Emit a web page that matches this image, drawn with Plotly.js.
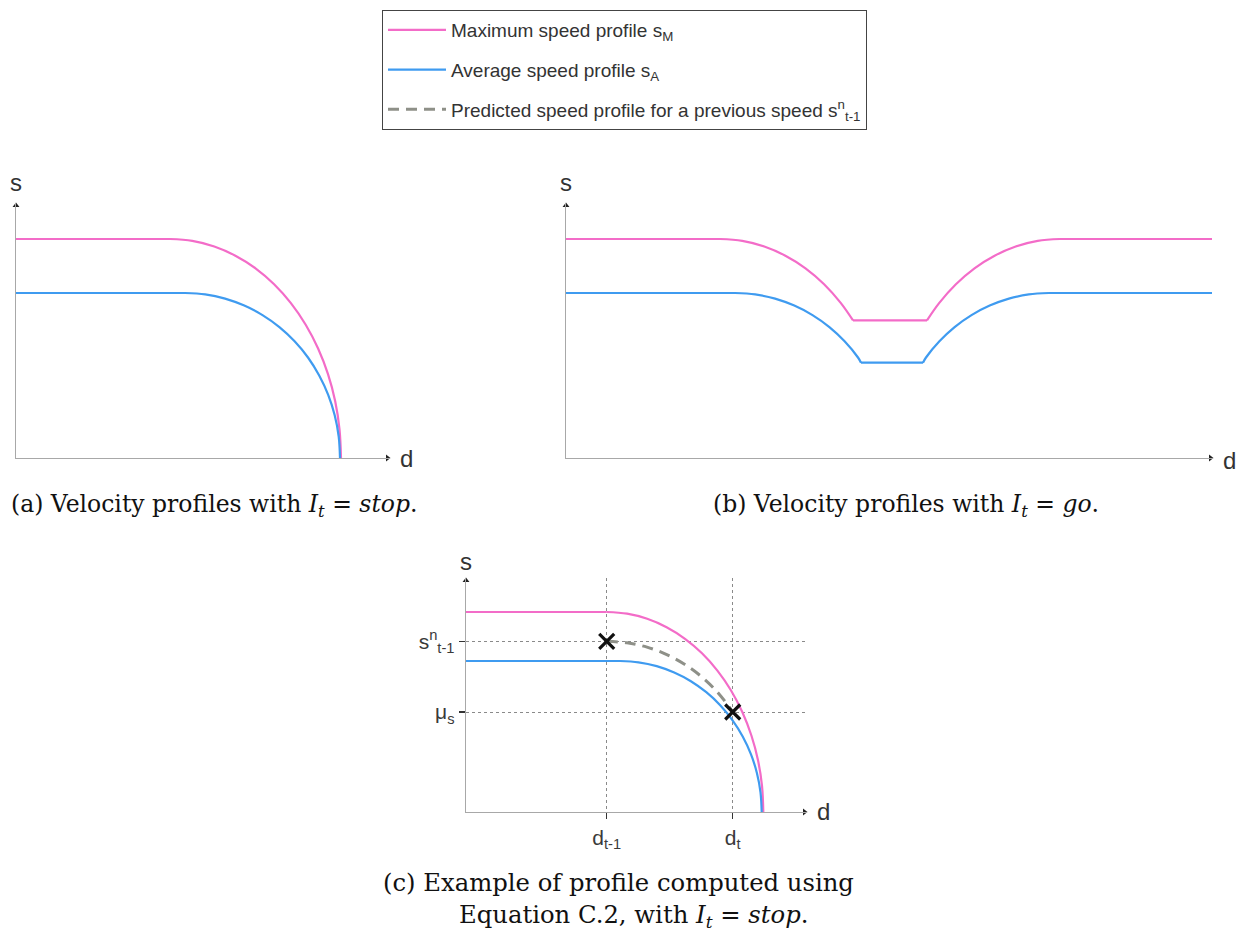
<!DOCTYPE html>
<html><head><meta charset="utf-8">
<script src="https://cdn.plot.ly/plotly-3.0.1.min.js"></script>
<style>html,body{margin:0;padding:0;background:#fff}#chart{width:1244px;height:936px}</style>
</head><body><div id="chart"></div>
<script>
// ---------- data (distance d, speed s) ----------
// (a) I_t = stop
const aMaxD = [0, 154, 176.3, 198.3, 219.4, 239.5, 258.1, 274.9, 289.7, 302.1, 312, 319.2, 323.5, 325];
const aMaxS = [219, 219, 217.1, 211.5, 202.3, 189.7, 173.8, 154.9, 133.3, 109.5, 83.8, 56.7, 28.6, 0];
const aAvgD = [0, 169, 189.2, 209.1, 228.3, 246.5, 263.4, 278.6, 292, 303.2, 312.2, 318.7, 322.7, 324];
const aAvgS = [165, 165, 163.6, 159.4, 152.4, 142.9, 130.9, 116.7, 100.5, 82.5, 63.1, 42.7, 21.5, 0];
// (b) I_t = go
const bMaxD = [0, 154, 176.3, 198.3, 219.4, 239.5, 258.1, 274.9, 287, 361, 373.1, 389.9, 408.5, 428.6, 449.7, 471.7, 494, 646];
const bMaxS = [219, 219, 217.1, 211.5, 202.3, 189.7, 173.8, 154.9, 137.6, 137.6, 154.9, 173.8, 189.7, 202.3, 211.5, 217.1, 219, 219];
const bAvgD = [0, 169, 189.2, 209.1, 228.3, 246.5, 263.4, 278.6, 292, 295, 357, 360, 373.4, 388.6, 405.5, 423.7, 442.9, 462.8, 483, 646];
const bAvgS = [165, 165, 163.6, 159.4, 152.4, 142.9, 130.9, 116.7, 100.5, 95.3, 95.3, 100.5, 116.7, 130.9, 142.9, 152.4, 159.4, 163.6, 165, 165];
// (c) example
const cMaxD = [0, 140.7, 161.1, 181.2, 200.6, 219, 236, 251.4, 264.9, 276.3, 285.4, 292, 296, 297.3];
const cMaxS = [200, 200, 198.3, 193.2, 184.8, 173.2, 158.7, 141.4, 121.8, 100, 76.5, 51.8, 26.1, 0];
const cAvgD = [0, 154, 172.5, 190.7, 208.2, 224.9, 240.3, 254.2, 266.4, 276.7, 284.9, 290.9, 294.5, 295.7];
const cAvgS = [151, 151, 149.7, 145.9, 139.5, 130.8, 119.8, 106.8, 91.9, 75.5, 57.8, 39.1, 19.7, 0];
const cPredD = [140.7, 161.0, 181.0, 200.2, 218.5, 235.4, 250.7, 264.1, 266.7];
const cPredS = [170.7, 169.2, 164.9, 157.7, 147.8, 135.4, 120.7, 103.9, 100];
const cMarkD = [140.7, 266.7];
const cMarkS = [170.7, 100];
const cTickD = [140.7, 266.7];
const cTickDText = ['d<sub>t-1</sub>', 'd<sub>t</sub>'];
const cTickS = [100, 170.7];
const cTickSText = ['μ<sub>s</sub>', 's<sup>n</sup><sub>t-1</sub>'];
const legendNames = ['Maximum speed profile s<sub>M</sub>', 'Average speed profile s<sub>A</sub>',
  'Predicted speed profile for a previous speed s<sup>n</sup><sub>t-1</sub>'];
// axis extents (d, s) of the three panels
const aRange = [374, 255], bRange = [647, 255], cRange = [341, 234];

// ---------- styling / layout ----------
const W = 1244, H = 936;
const PINK = '#f36cc8', BLUE = '#3f9bf0', PRED = '#8e9088';
const SANS = 'Liberation Sans, Arial, sans-serif';
const SERIF = 'DejaVu Serif, serif';
const px = v => v / W, py = v => 1 - v / H;
const dx = (a, b) => [px(a), px(b)];
const dy = (top, bot) => [py(bot), py(top)];

const traces = [];
// piecewise profile: straight constant-speed parts, smooth arcs in between
// pieces: list of [fromIndex, toIndex, curved]
function profile(D, S, pieces, color, xa, ya, legendIdx) {
  pieces.forEach(([i0, i1, curved], k) => {
    const t = {x: D.slice(i0, i1 + 1), y: S.slice(i0, i1 + 1), type: 'scatter', mode: 'lines',
      xaxis: xa, yaxis: ya, hoverinfo: 'skip', showlegend: false,
      line: curved ? {color, width: 2.2, shape: 'spline', smoothing: 1} : {color, width: 2.2, shape: 'linear'}};
    if (legendIdx !== undefined && k === 0) {
      t.showlegend = true; t.name = legendNames[legendIdx]; t.legendgroup = 'g' + legendIdx;
    } else if (legendIdx !== undefined) { t.legendgroup = 'g' + legendIdx; }
    traces.push(t);
  });
}
profile(aMaxD, aMaxS, [[0, 1, false], [1, 13, true]], PINK, 'x', 'y', 0);
profile(aAvgD, aAvgS, [[0, 1, false], [1, 13, true]], BLUE, 'x', 'y', 1);
profile(bMaxD, bMaxS, [[0, 1, false], [1, 8, true], [8, 9, false], [9, 16, true], [16, 17, false]], PINK, 'x2', 'y2');
profile(bAvgD, bAvgS, [[0, 1, false], [1, 9, true], [9, 10, false], [10, 18, true], [18, 19, false]], BLUE, 'x2', 'y2');
profile(cMaxD, cMaxS, [[0, 1, false], [1, 13, true]], PINK, 'x3', 'y3');
profile(cAvgD, cAvgS, [[0, 1, false], [1, 13, true]], BLUE, 'x3', 'y3');
traces.push({x: cPredD, y: cPredS, type: 'scatter', mode: 'lines', xaxis: 'x3', yaxis: 'y3',
  name: legendNames[2], showlegend: true, legendgroup: 'g2', hoverinfo: 'skip',
  line: {color: PRED, width: 3, dash: '11px,7px', shape: 'spline'}});
traces.push({x: cMarkD, y: cMarkS, type: 'scatter', mode: 'markers', xaxis: 'x3', yaxis: 'y3', showlegend: false,
  hoverinfo: 'skip', cliponaxis: false,
  marker: {symbol: 'x-thin', size: 15, color: '#111', line: {width: 3.2, color: '#111'}}});
// axis arrowheads (at the end of each axis)
[['x', 'y', aRange], ['x2', 'y2', bRange], ['x3', 'y3', cRange]].forEach(([xa, ya, r]) => {
  traces.push({x: [r[0] - 2.5], y: [0], type: 'scatter', mode: 'markers', xaxis: xa, yaxis: ya,
    cliponaxis: false, showlegend: false, hoverinfo: 'skip',
    marker: {symbol: 'triangle-right', size: 6, color: '#222'}});
  traces.push({x: [0], y: [r[1] - 2.5], type: 'scatter', mode: 'markers', xaxis: xa, yaxis: ya,
    cliponaxis: false, showlegend: false, hoverinfo: 'skip',
    marker: {symbol: 'triangle-up', size: 6, color: '#222'}});
});

const plainAxis = {showgrid: false, zeroline: false, showticklabels: false, ticks: '',
  showline: true, linecolor: '#a8a8a8', linewidth: 1.3, fixedrange: true};
const tickAxis = {showgrid: true, gridcolor: '#8a8a8a', griddash: 'dot', gridwidth: 1,
  tickmode: 'array', showticklabels: true, ticks: 'outside', ticklen: 6, tickwidth: 1.5, tickcolor: '#333',
  tickfont: {family: SANS, size: 21, color: '#3a3a3a'}};

const layout = {
  width: W, height: H, margin: {l: 0, r: 0, t: 0, b: 0},
  paper_bgcolor: '#fff', plot_bgcolor: 'rgba(0,0,0,0)', showlegend: true,
  legend: {x: px(382), y: py(10), xanchor: 'left', yanchor: 'top', bgcolor: '#fff',
    bordercolor: '#444', borderwidth: 1, font: {family: SANS, size: 19, color: '#333'},
    tracegroupgap: 12, itemwidth: 58, traceorder: 'grouped'},
  xaxis: Object.assign({}, plainAxis, {domain: dx(16, 390), range: [0, aRange[0]], anchor: 'y'}),
  yaxis: Object.assign({}, plainAxis, {domain: dy(203, 458), range: [0, aRange[1]], anchor: 'x'}),
  xaxis2: Object.assign({}, plainAxis, {domain: dx(566, 1213), range: [0, bRange[0]], anchor: 'y2'}),
  yaxis2: Object.assign({}, plainAxis, {domain: dy(203, 458), range: [0, bRange[1]], anchor: 'x2'}),
  xaxis3: Object.assign({}, plainAxis, tickAxis, {domain: dx(466, 807), range: [0, cRange[0]], anchor: 'y3',
    tickvals: cTickD, ticktext: cTickDText}),
  yaxis3: Object.assign({}, plainAxis, tickAxis, {domain: dy(578, 812), range: [0, cRange[1]], anchor: 'x3',
    tickvals: cTickS, ticktext: cTickSText}),
  annotations: []
};

// axis letters
function lab(text, x, y, size) {
  layout.annotations.push({xref: 'paper', yref: 'paper', x: px(x), y: py(y), text, showarrow: false,
    xanchor: 'center', yanchor: 'middle', font: {family: SANS, size: size, color: '#333'}});
}
lab('s', 16, 183, 24); lab('d', 406, 458, 24);
lab('s', 566, 183, 24); lab('d', 1229, 460, 24);
lab('s', 466, 561, 24); lab('d', 823, 811, 24);

// captions
function cap(text, x, y, size, anchor) {
  layout.annotations.push({xref: 'paper', yref: 'paper', x: px(x), y: py(y), text, showarrow: false,
    xanchor: anchor || 'left', yanchor: 'middle', font: {family: SERIF, size: size, color: '#111'}});
}
cap('(a) Velocity profiles with <i>I</i><sub><i>t</i></sub> = <i>stop</i>.', 9, 505, 23.5);
cap('(b) Velocity profiles with <i>I</i><sub><i>t</i></sub> = <i>go</i>.', 711, 505, 23.5);
cap('(c) Example of profile computed using', 618, 882, 24.3, 'center');
cap('Equation C.2, with <i>I</i><sub><i>t</i></sub> = <i>stop</i>.', 633, 916, 24.3, 'center');

Plotly.newPlot('chart', traces, layout, {displayModeBar: false, staticPlot: true});
</script></body></html>
